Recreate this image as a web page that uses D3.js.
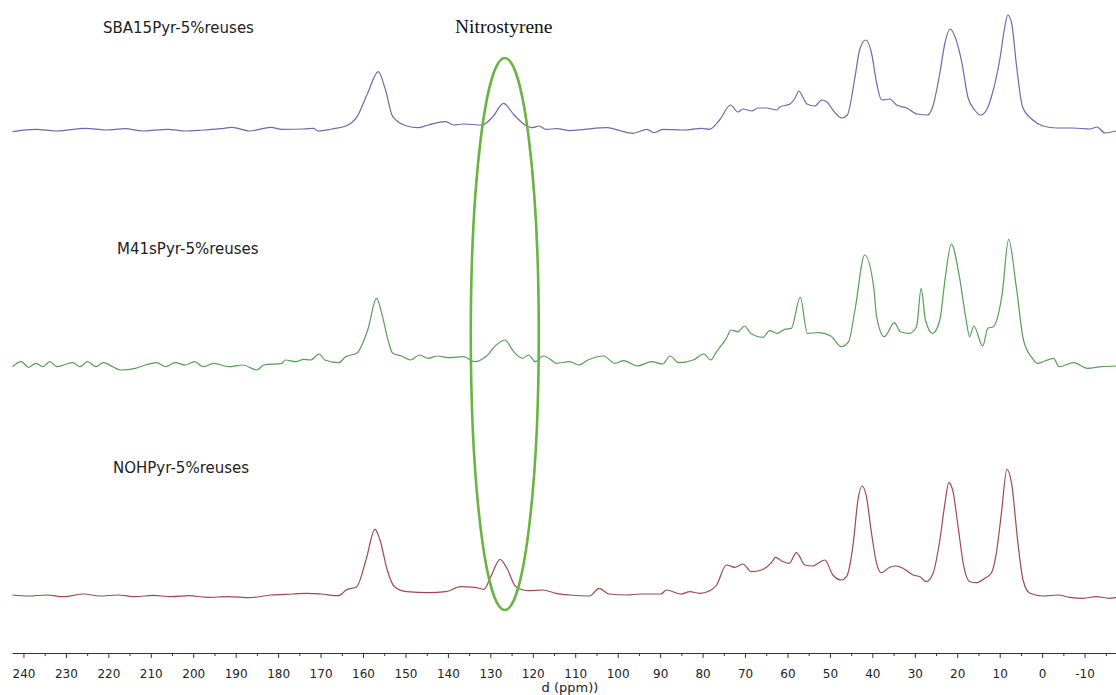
<!DOCTYPE html>
<html>
<head>
<meta charset="utf-8">
<script src="https://cdn.jsdelivr.net/npm/d3@7"></script>
<style>
body { margin: 0; background: #fff; }
</style>
</head>
<body>
<svg id="mainSVG" width="1116" height="695"></svg>
<script>

// spectra: [ppm, intensity above baseline]
var sbaData = [[242.6,-1.7],[237.1,0.7],[232.1,-1],[225.4,1.7],[220.4,0],[216.1,1.3],[211.9,-1],[206.0,0.7],[201.8,-1],[197.6,0],[193.5,1.3],[190.9,2.7],[186.7,-1],[181.7,2.7],[179.1,0.7],[174.0,1],[171.6,1.7],[170.6,-1],[167.3,1],[164.0,4],[161.4,13.3],[158.9,37],[156.4,58.3],[154.7,40],[153.0,13.3],[149.7,4],[147.1,2.3],[144.6,5],[140.5,8.3],[138.7,5],[136.3,6],[132.0,5],[129.4,13.3],[126.9,26.7],[124.4,15],[121.8,5],[120.2,2.3],[118.5,4],[116.9,0.7],[114.3,1.3],[111.3,-0.7],[107.8,0.7],[102.4,2.3],[99.5,-0.7],[96.4,-3.3],[93.1,0.7],[91.4,-2.7],[89.4,0.7],[84.3,0],[80.2,1.7],[78.4,0.7],[76.0,10],[73.4,25],[71.7,18],[70.5,21],[68.4,19],[67.0,22],[64.9,22],[62.5,20],[61.8,23],[59.4,26],[58.2,32],[57.3,39],[56.4,33],[55.4,26],[53.6,24],[51.9,30],[50.7,28],[49.3,20],[47.2,12],[45.9,15],[44.2,50],[43.0,80],[41.6,90],[40.2,77],[39.0,47],[37.8,30],[35.9,31],[34.3,25],[31.9,22],[29.5,16],[27.0,15],[25.8,23],[24.1,57],[22.9,87],[21.7,101],[20.5,93],[18.9,67],[17.5,33],[15.9,20],[14.5,15],[13.1,20],[11.7,37],[10.0,70],[8.8,103],[8.1,115],[7.2,107],[6.0,63],[4.6,23],[2.2,10],[-0.2,4],[-3.5,2],[-7.3,2],[-11.3,1],[-12.9,3],[-14.8,-3],[-17.4,-1]];

var m41Data = [[242.6,-2.7],[240.5,2.3],[238.8,-3.3],[237.1,0.7],[235.4,-2.7],[233.8,2.3],[232.1,-2.7],[230.5,-1],[228.4,1.3],[226.7,-2.7],[224.9,2.3],[222.9,-2.7],[221.2,1.3],[218.7,-3.3],[217.1,-6],[213.6,-4.3],[211.2,-1],[208.6,1.3],[206.5,-2.7],[204.3,1.3],[201.8,-1],[199.7,2.3],[197.6,-2.7],[195.1,0.7],[191.7,-2.7],[188.3,-1],[185.0,-6],[183.4,-1],[179.1,0.7],[178.3,4],[175.8,2.3],[174.0,4.7],[172.4,4],[170.3,10],[169.0,4],[165.7,1.3],[164.1,7.3],[161.5,10.7],[158.9,34],[156.8,65.7],[155.6,50.7],[153.9,20.7],[153.0,10.7],[150.9,8],[148.8,4],[146.7,9],[144.6,5.7],[142.5,8],[139.6,6.3],[136.3,7.3],[133.7,2.3],[131.1,7.3],[128.6,19],[126.6,24],[124.5,12.3],[122.4,5.7],[121.0,9],[119.4,2.3],[117.6,8],[115.1,2.3],[114.6,0.7],[111.3,2.3],[109.2,-1],[107.0,4],[103.3,8],[100.7,0.7],[98.6,3.3],[95.4,-2],[92.0,2.3],[89.4,0],[87.7,8],[85.6,1.3],[82.2,4],[79.7,10],[78.1,4],[76.7,12.3],[74.2,27.3],[73.4,34],[71.7,32.3],[70.1,38],[68.7,30.7],[65.8,26.7],[64.2,33.3],[62.4,30.7],[60.7,34.7],[59.1,35.7],[57.0,66.7],[55.3,30.7],[52.7,31.3],[49.8,28],[47.3,17.3],[45.6,22.3],[44.1,54],[41.8,109],[39.7,77.3],[39.0,47.3],[37.2,27.3],[34.8,41.3],[33.4,32.3],[31.3,30.7],[29.6,37.3],[28.5,75.7],[27.5,44],[25.8,30.7],[24.1,44],[22.9,84],[21.4,120],[19.5,87.3],[17.9,44],[17.1,27.3],[16.1,38],[14.0,18],[12.8,35.7],[11.5,37.3],[9.4,70.7],[7.9,124.7],[6.1,77.3],[4.4,24],[2.3,5.7],[1.1,0.7],[-2.7,5.7],[-4.0,-2.7],[-7.4,1.3],[-10.7,-4.3],[-14.0,-2.7],[-17.4,-2]];

var nohData = [[242.6,0],[238.8,-1],[234.6,0],[230.5,-1.7],[225.8,1],[222.0,-1],[217.8,0],[213.6,-1.7],[209.4,-0.3],[205.3,-1.7],[201.0,-0.7],[196.8,-2.3],[191.7,-1.7],[186.7,-2.7],[181.7,0],[176.5,1],[173.2,1.7],[169.9,1],[165.7,-0.7],[164.0,5],[161.5,8.3],[159.3,35],[157.2,65.7],[156.0,55],[154.3,25],[152.6,8.3],[149.7,3.3],[144.6,2.3],[140.5,3.3],[137.0,8.3],[133.7,7.7],[131.5,5.7],[129.9,18.3],[127.7,35.7],[126.1,26.7],[124.0,8.3],[121.0,4.3],[117.6,5],[114.6,1.7],[111.3,0],[106.6,-1],[104.4,6.7],[102.0,1],[97.9,0],[94.6,1],[89.8,1],[88.5,5],[85.1,1],[83.0,3.3],[80.7,1.7],[78.3,4.3],[76.7,10],[74.4,30],[72.4,27.7],[70.5,31],[68.5,23.3],[66.1,25],[63.8,32.3],[62.8,37.7],[61.4,34],[59.6,31.7],[57.9,42.3],[55.9,30],[54.0,29],[52.8,31.7],[51.2,35],[49.3,20],[47.3,15],[46.1,18.3],[44.5,51.7],[43.4,95],[42.4,109],[41.4,98.3],[40.2,61.7],[39.0,31.7],[37.9,22.3],[35.9,27.7],[34.3,29],[32.8,26.7],[30.4,20],[28.8,18.3],[27.3,13.3],[25.7,21.7],[24.1,55],[22.9,91.7],[22.0,112.3],[21.0,103.3],[19.8,68.3],[18.6,31.7],[17.0,13.3],[15.5,12.3],[13.5,16.7],[12.0,21.7],[10.8,41.7],[9.6,81.7],[8.3,125.7],[7.2,111.7],[5.7,51.7],[4.5,15],[2.9,1.7],[-0.2,-1],[-3.7,0],[-6.5,-2.3],[-9.6,-3.3],[-12.8,-1.7],[-15.9,-3.3],[-17.4,-2.3]];

var seriesNames = ["SBA15Pyr-5%reuses", "M41sPyr-5%reuses", "NOHPyr-5%reuses"];
var majorTicks = [240,230,220,210,200,190,180,170,160,150,140,130,120,110,100,90,80,70,60,50,40,30,20,10,0,-10];
var minorTicks = [235,225,215,205,195,185,175,165,155,145,135,125,115,105,95,85,75,65,55,45,35,25,15,5,-5,-15];
var markPpm = 126.6;   // centre of the nitrostyrene ellipse

var svg = d3.select("#mainSVG");

var x = d3.scaleLinear()
    .domain([242.7, -17.4])
    .range([12, 1116]);

// one baseline per trace, stacked
var traces = [
  {data: sbaData, base: 130, color: "#6a6aae", label: seriesNames[0], lx: 103, ly: 33},
  {data: m41Data, base: 364, color: "#55a055", label: seriesNames[1], lx: 117, ly: 254},
  {data: nohData, base: 595, color: "#a04850", label: seriesNames[2], lx: 113, ly: 473}
];

traces.forEach(function(t) {
  var y = d3.scaleLinear().domain([0, 130]).range([t.base, t.base - 130]);
  var line = d3.line()
      .x(function(d) { return x(d[0]); })
      .y(function(d) { return y(d[1]); })
      .curve(d3.curveMonotoneX);

  svg.append("path")
      .datum(t.data)
      .attr("d", line)
      .attr("fill", "none")
      .attr("stroke", t.color)
      .attr("stroke-width", 1.2);

  svg.append("text")
      .attr("x", t.lx)
      .attr("y", t.ly)
      .attr("font-family", "DejaVu Sans, Verdana, sans-serif")
      .attr("font-size", 15)
      .attr("fill", "#222")
      .text(t.label);
});

// green ellipse round the nitrostyrene peak
svg.append("ellipse")
    .attr("cx", x(markPpm))
    .attr("cy", 334)
    .attr("rx", 34)
    .attr("ry", 276)
    .attr("fill", "none")
    .attr("stroke", "#6ab344")
    .attr("stroke-width", 2.6);

svg.append("text")
    .attr("x", 455)
    .attr("y", 33)
    .attr("font-family", "Liberation Serif, Times New Roman, serif")
    .attr("font-size", 19.5)
    .attr("fill", "#111")
    .text("Nitrostyrene");

// ppm axis
var axisG = svg.append("g").attr("transform", "translate(0,653)");

axisG.call(d3.axisBottom(x)
    .tickValues(majorTicks)
    .tickSize(5)
    .tickSizeOuter(0)
    .tickPadding(11)
    .tickFormat(function(d) { return String(d); }));

axisG.append("g").call(d3.axisBottom(x)
    .tickValues(minorTicks)
    .tickSize(3)
    .tickSizeOuter(0)
    .tickFormat(""))
  .select(".domain").remove();

axisG.selectAll("path, line").attr("stroke", "#333");
axisG.selectAll("text")
    .attr("font-family", "DejaVu Sans, Verdana, sans-serif")
    .attr("font-size", 12)
    .attr("fill", "#222");

svg.append("text")
    .attr("x", 570)
    .attr("y", 692)
    .attr("text-anchor", "middle")
    .attr("font-family", "DejaVu Sans, Verdana, sans-serif")
    .attr("font-size", 13)
    .attr("fill", "#222")
    .text("d (ppm))");

</script>
</body>
</html>
